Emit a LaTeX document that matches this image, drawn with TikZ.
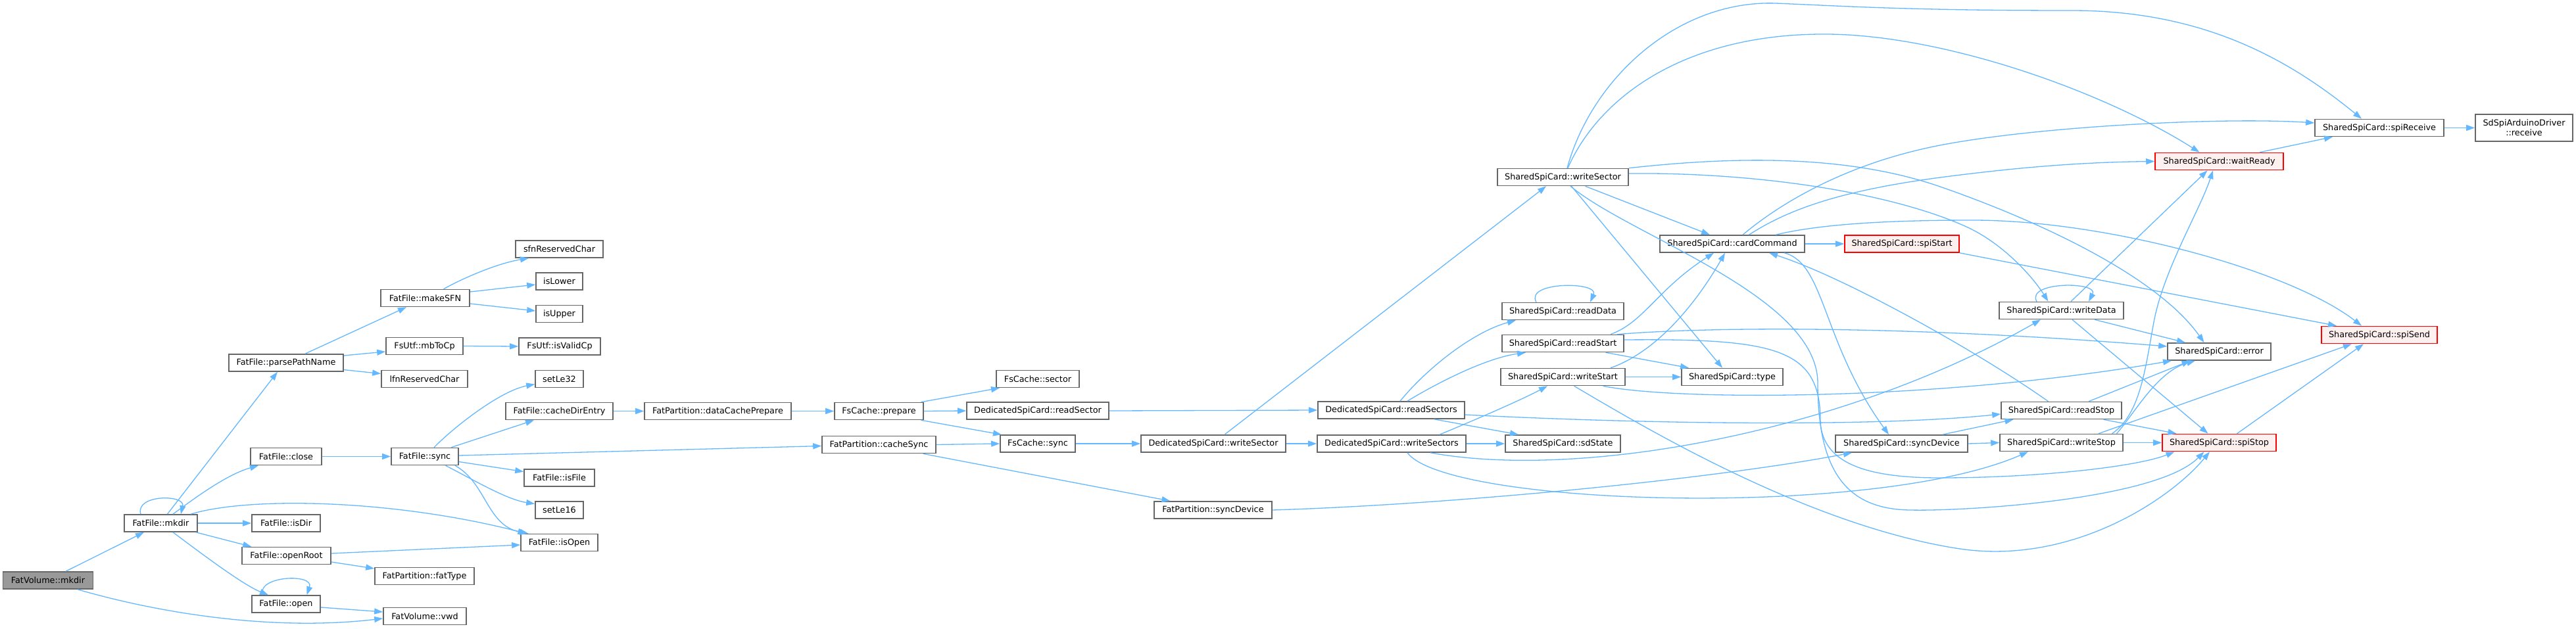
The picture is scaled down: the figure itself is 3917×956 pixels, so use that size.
\documentclass[tikz,border=0pt]{standalone}
\usepackage{fontspec}
\setmainfont{DejaVu Sans}
\usetikzlibrary{arrows.meta}
\definecolor{edgec}{HTML}{63B8FF}
\definecolor{bord}{HTML}{666666}
\definecolor{redb}{HTML}{FF0000}
\definecolor{redf}{HTML}{FFF0F0}
\definecolor{rootf}{HTML}{999999}
\begin{document}
\begin{tikzpicture}[x=1pt,y=1pt,
  box/.style={draw=bord, fill=white, line width=1.6pt, inner sep=0pt, minimum height=26pt, font=\fontsize{12.8}{15}\selectfont, text=black},
  redbox/.style={box, draw=redb, fill=redf},
  rootbox/.style={box, fill=rootf},
  e/.style={draw=edgec, line width=1.3pt, -{Triangle[length=13pt,width=9pt]}}]
\fill[white] (0,0) rectangle (3917,-956);
\useasboundingbox (0,0) rectangle (3917,-956);
% nodes
\node[rootbox, minimum width=137pt] (vmkdir) at (73,-883) {FatVolume::mkdir};
\node[box, minimum width=111pt] (fmkdir) at (244.5,-796) {FatFile::mkdir};
\node[box, minimum width=174pt] (parse) at (435,-552) {FatFile::parsePathName};
\node[box, minimum width=108pt] (close) at (435,-694.5) {FatFile::close};
\node[box, minimum width=104pt] (isDir) at (435,-796) {FatFile::isDir};
\node[box, minimum width=135pt] (openRoot) at (435.5,-845.5) {FatFile::openRoot};
\node[box, minimum width=104pt] (open) at (435,-919) {FatFile::open};
\node[box, minimum width=135pt] (makeSFN) at (646.5,-453.5) {FatFile::makeSFN};
\node[box, minimum width=117pt] (mbToCp) at (645.5,-526.5) {FsUtf::mbToCp};
\node[box, minimum width=131pt] (lfn) at (645.5,-576.5) {lfnReservedChar};
\node[box, minimum width=102pt] (fsync) at (646,-694.5) {FatFile::sync};
\node[box, minimum width=151pt] (fatType) at (645.5,-876.5) {FatPartition::fatType};
\node[box, minimum width=126pt] (vwd) at (646,-937.5) {FatVolume::vwd};
\node[box, minimum width=133pt] (sfn) at (850.5,-379) {sfnReservedChar};
\node[box, minimum width=71pt] (isLower) at (850.5,-428) {isLower};
\node[box, minimum width=71pt] (isUpper) at (850.5,-477.5) {isUpper};
\node[box, minimum width=124pt] (isValidCp) at (851,-527) {FsUtf::isValidCp};
\node[box, minimum width=73pt] (setLe32) at (850.5,-576.5) {setLe32};
\node[box, minimum width=163pt] (cacheDirEntry) at (850.5,-625.5) {FatFile::cacheDirEntry};
\node[box, minimum width=107pt] (isFile) at (850.5,-727) {FatFile::isFile};
\node[box, minimum width=73pt] (setLe16) at (850.5,-776) {setLe16};
\node[box, minimum width=117pt] (isOpen) at (850.5,-825.5) {FatFile::isOpen};
\node[box, minimum width=223pt] (dcp) at (1091.5,-625.5) {FatPartition::dataCachePrepare};
\node[box, minimum width=135pt] (prepare) at (1336.5,-625.5) {FsCache::prepare};
\node[box, minimum width=173pt] (cacheSync) at (1336.5,-676.5) {FatPartition::cacheSync};
\node[box, minimum width=126pt] (sector) at (1578,-576.5) {FsCache::sector};
\node[box, minimum width=216pt] (readSector) at (1578,-625) {DedicatedSpiCard::readSector};
\node[box, minimum width=114pt] (fcsync) at (1578,-675) {FsCache::sync};
\node[box, minimum width=220pt] (dwriteSector) at (1845,-675) {DedicatedSpiCard::writeSector};
\node[box, minimum width=179pt] (psyncDevice) at (1844.5,-776) {FatPartition::syncDevice};
\node[box, minimum width=223pt] (readSectors) at (2115.5,-624) {DedicatedSpiCard::readSectors};
\node[box, minimum width=226pt] (writeSectors) at (2116,-675) {DedicatedSpiCard::writeSectors};
\node[box, minimum width=199pt] (swriteSector) at (2376.5,-269.5) {SharedSpiCard::writeSector};
\node[box, minimum width=185pt] (readData) at (2376.5,-473.5) {SharedSpiCard::readData};
\node[box, minimum width=185pt] (readStart) at (2376.5,-522.5) {SharedSpiCard::readStart};
\node[box, minimum width=189pt] (writeStart) at (2376.5,-573.5) {SharedSpiCard::writeStart};
\node[box, minimum width=175pt] (sdState) at (2376.5,-675) {SharedSpiCard::sdState};
\node[box, minimum width=220pt] (cardCommand) at (2634,-371) {SharedSpiCard::cardCommand};
\node[box, minimum width=154pt] (type) at (2634,-573.5) {SharedSpiCard::type};
\node[redbox, minimum width=174pt] (spiStart) at (2892,-371) {SharedSpiCard::spiStart};
\node[box, minimum width=201pt] (ssyncDevice) at (2891.5,-675) {SharedSpiCard::syncDevice};
\node[box, minimum width=189pt] (writeData) at (3134.5,-472.5) {SharedSpiCard::writeData};
\node[box, minimum width=183pt] (readStop) at (3134.5,-624.5) {SharedSpiCard::readStop};
\node[box, minimum width=187pt] (writeStop) at (3134.5,-673.5) {SharedSpiCard::writeStop};
\node[redbox, minimum width=195pt] (waitReady) at (3374.5,-245.5) {SharedSpiCard::waitReady};
\node[box, minimum width=157pt] (error) at (3374.5,-535) {SharedSpiCard::error};
\node[redbox, minimum width=173pt] (spiStop) at (3374.5,-673.5) {SharedSpiCard::spiStop};
\node[box, minimum width=196pt] (spiReceive) at (3618,-194.5) {SharedSpiCard::spiReceive};
\node[redbox, minimum width=176pt] (spiSend) at (3618,-509.5) {SharedSpiCard::spiSend};
\node[box, minimum width=148pt, minimum height=41pt, align=center] (receive) at (3838,-194.5) {SdSpiArduinoDriver\\::receive};
% left edges
\draw[e] ([xshift=27pt]vmkdir.north) -- ([xshift=-25.5pt]fmkdir.south);
\draw[e] ([xshift=45pt]vmkdir.south) .. controls (250,-935) and (420,-960) .. ([yshift=-3.5pt]vwd.west);
\draw[e] ([xshift=-30.5pt]fmkdir.north) .. controls (205,-752) and (282,-752) .. ([xshift=30.5pt]fmkdir.north);
\draw[e] ([xshift=10pt]fmkdir.north) -- ([xshift=-13pt]parse.south);
\draw[e] ([xshift=18.5pt]fmkdir.north) .. controls (300,-755) and (345,-722) .. ([xshift=-42pt]close.south);
\draw[e] ([xshift=45.5pt]fmkdir.north) .. controls (380,-755) and (600,-760) .. ([xshift=-50pt]isOpen.north);
\draw[e] (fmkdir.east) -- (isDir.west);
\draw[e] (fmkdir) -- (openRoot);
\draw[e] ([xshift=18.5pt]fmkdir.south) .. controls (310,-845) and (370,-890) .. ([xshift=-27pt]open.north);
\draw[e] ([xshift=-35.5pt]open.north) .. controls (390,-876) and (478,-872) .. ([xshift=31.5pt]open.north);
\draw[e] ([yshift=-5pt]open.east) -- ([yshift=6.5pt]vwd.west);
\draw[e] ([xshift=29pt]parse.north) -- ([xshift=-28.5pt]makeSFN.south);
\draw[e] ([yshift=11pt]parse.east) -- ([yshift=-8.5pt]mbToCp.west);
\draw[e] ([yshift=-10.6pt]parse.east) -- ([yshift=8pt]lfn.west);
\draw[e] ([xshift=28pt]makeSFN.north) .. controls (710,-420) and (760,-400) .. ([xshift=-46.5pt]sfn.south);
\draw[e] ([yshift=9.5pt]makeSFN.east) -- ([yshift=-5pt]isLower.west);
\draw[e] ([yshift=-8.5pt]makeSFN.east) -- ([yshift=4.5pt]isUpper.west);
\draw[e] (mbToCp.east) -- (isValidCp.west);
\draw[e] (close.east) -- (fsync.west);
\draw[e] ([xshift=14pt]fsync.north) .. controls (690,-650) and (760,-595) .. ([yshift=-8pt]setLe32.west);
\draw[e] ([xshift=40pt]fsync.north) -- ([xshift=-38.5pt]cacheDirEntry.south);
\draw[e] ([yshift=1.5pt]fsync.east) -- ([yshift=-2pt]cacheSync.west);
\draw[e] ([yshift=-8pt]fsync.east) -- ([yshift=9.4pt]isFile.west);
\draw[e] ([xshift=31.5pt]fsync.south) .. controls (720,-730) and (770,-760) .. ([yshift=9.5pt]setLe16.west);
\draw[e] ([xshift=46pt]fsync.south) .. controls (740,-735) and (740,-800) .. ([xshift=-47pt]isOpen.north);
\draw[e] ([yshift=3.5pt]openRoot.east) -- ([yshift=-3.5pt]isOpen.west);
\draw[e] ([yshift=-9.5pt]openRoot.east) -- ([yshift=11.5pt]fatType.west);
\draw[e] (cacheDirEntry.east) -- (dcp.west);
\draw[e] (dcp.east) -- (prepare.west);
\draw[e] ([xshift=64pt]prepare.north) -- ([xshift=-58pt]sector.south);
\draw[e] (prepare.east) -- (readSector.west);
\draw[e] ([xshift=64pt]prepare.south) -- ([xshift=-55pt]fcsync.north);
\draw[e] (cacheSync.east) -- (fcsync.west);
\draw[e] ([xshift=67pt]cacheSync.south) -- ([xshift=-65pt]psyncDevice.north);
\draw[e] (fcsync.east) -- (dwriteSector.west);
\draw[e] (readSector.east) -- (readSectors.west);
\draw[e] ([xshift=17pt]dwriteSector.north) -- ([xshift=-25.5pt]swriteSector.south);
\draw[e] (dwriteSector.east) -- (writeSectors.west);
% dedicated spi card
\draw[e] ([xshift=13.5pt]readSectors.north) .. controls (2170,-560) and (2240,-505) .. ([xshift=-71.5pt]readData.south);
\draw[e] ([xshift=24.5pt]readSectors.north) .. controls (2190,-580) and (2260,-545) .. ([xshift=-56.5pt]readStart.south);
\draw[e] ([yshift=-7pt]readSectors.east) .. controls (2500,-645) and (2850,-650) .. ([yshift=-5.5pt]readStop.west);
\draw[e] ([xshift=65pt]readSectors.south) -- ([xshift=-67.5pt]sdState.north);
\draw[e] ([xshift=73pt]writeSectors.north) .. controls (2240,-640) and (2310,-610) .. ([xshift=-23.5pt]writeStart.south);
\draw[e] (writeSectors.east) -- (sdState.west);
\draw[e] ([xshift=59pt]writeSectors.south) .. controls (2400,-730) and (2800,-660) .. ([xshift=-31.5pt]writeData.south);
\draw[e] ([xshift=24pt]writeSectors.south) .. controls (2200,-770) and (2850,-790) .. ([xshift=-50.5pt]writeStop.south);
\draw[e] (psyncDevice.east) .. controls (2200,-768) and (2600,-730) .. ([xshift=-75.5pt]ssyncDevice.south);
% shared writeSector
\draw[e] ([xshift=34pt]swriteSector.south) -- ([xshift=-34pt]cardCommand.north);
\draw[e] ([xshift=13pt]swriteSector.south) -- ([xshift=-15pt]type.north);
\draw[e] ([xshift=11.5pt]swriteSector.south) .. controls (2480,-360) and (2764,-450) .. (2764,-583) .. controls (2764,-720) and (2810,-775) .. (2905,-776) .. controls (2990,-778) and (3280,-760) .. ([xshift=-23pt]spiStop.south);
\draw[e] ([xshift=6.5pt]swriteSector.north) .. controls (2420,-120) and (2550,0) .. (2700,-5) .. controls (2800,-9) and (2900,-16) .. (3150,-16) .. controls (3350,-16) and (3480,-90) .. ([xshift=-27pt]spiReceive.north);
\draw[e] ([xshift=7.5pt]swriteSector.north) .. controls (2430,-150) and (2560,-50) .. (2780,-52) .. controls (2960,-54) and (3200,-140) .. ([xshift=-30pt]waitReady.north);
\draw[e] (swriteSector.north east) .. controls (2620,-240) and (2800,-232) .. (2950,-284) .. controls (3100,-336) and (3280,-420) .. ([xshift=-23pt]error.north);
\draw[e] ([yshift=5.5pt]swriteSector.east) .. controls (2680,-262) and (2880,-295) .. (2990,-345) .. controls (3045,-370) and (3090,-420) .. ([xshift=-20pt]writeData.north);
% cardCommand
\draw[e] (cardCommand.east) -- (spiStart.west);
\draw[e] ([xshift=79pt]cardCommand.south) .. controls (2775,-400) and (2770,-520) .. ([xshift=-19.5pt]ssyncDevice.north);
\draw[e] ([xshift=16pt]cardCommand.north) .. controls (2700,-315) and (2800,-250) .. (2950,-221) .. controls (3100,-192) and (3380,-178) .. ([yshift=7.5pt]spiReceive.west);
\draw[e] ([xshift=25.5pt]cardCommand.north) .. controls (2720,-318) and (2800,-290) .. (2950,-270) .. controls (3050,-257) and (3150,-247) .. (waitReady.west);
\draw[e] ([xshift=66pt]cardCommand.north) .. controls (2760,-343) and (2850,-335) .. (3000,-335) .. controls (3200,-335) and (3480,-410) .. ([xshift=-27pt]spiSend.north);
\draw[e] (spiStart.south east) -- ([xshift=-65pt]spiSend.north);
% readStart / writeStart
\draw[e] ([xshift=72.5pt]readStart.north) .. controls (2500,-490) and (2520,-440) .. ([xshift=-28pt]cardCommand.south);
\draw[e] ([xshift=72.5pt]writeStart.north) .. controls (2520,-535) and (2580,-460) .. ([xshift=-11pt]cardCommand.south);
\draw[e] ([xshift=65pt]readStart.south) -- ([xshift=-66pt]type.north);
\draw[e] (writeStart.east) -- (type.west);
\draw[e] ([xshift=82pt]readStart.north) .. controls (2600,-497) and (2900,-495) .. ([yshift=8pt]error.west);
\draw[e] ([yshift=5.5pt]readStart.east) .. controls (2700,-515) and (2768,-530) .. (2768,-640) .. controls (2770,-710) and (2850,-727) .. (2950,-727) .. controls (3100,-727) and (3250,-710) .. ([xshift=-68pt]spiStop.south);
\draw[e] ([xshift=61pt]writeStart.south) .. controls (2550,-610) and (2950,-610) .. ([xshift=-72.5pt]error.south);
\draw[e] ([xshift=17pt]writeStart.south) .. controls (2500,-650) and (2750,-800) .. (2980,-835) .. controls (3150,-860) and (3300,-760) .. ([xshift=-14.5pt]spiStop.south);
% stop / data
\draw[e] ([xshift=-20pt]readStop.north) .. controls (3000,-530) and (2800,-420) .. ([xshift=56pt]cardCommand.south);
\draw[e] ([xshift=-40.5pt]readData.north) .. controls (2318,-428) and (2432,-428) .. ([xshift=41.5pt]readData.north);
\draw[e] ([xshift=-37.5pt]writeData.north) .. controls (3080,-428) and (3192,-428) .. ([xshift=41.5pt]writeData.north);
\draw[e] ([xshift=14.5pt]writeData.north) -- ([xshift=-18pt]waitReady.south);
\draw[e] ([xshift=50.5pt]writeData.south) -- ([xshift=-51.5pt]error.north);
\draw[e] ([xshift=16.5pt]writeData.south) -- ([xshift=-17pt]spiStop.north);
\draw[e] ([xshift=41.5pt]readStop.north) -- ([xshift=-44pt]error.south);
\draw[e] ([xshift=64pt]readStop.south) -- ([xshift=-65pt]spiStop.north);
\draw[e] ([xshift=84pt]writeStop.north) .. controls (3245,-630) and (3280,-565) .. ([xshift=-36.5pt]error.south);
\draw[e] ([xshift=77pt]writeStop.north) .. controls (3255,-630) and (3262,-560) .. (3275,-490) .. controls (3290,-410) and (3345,-320) .. ([xshift=-9.5pt]waitReady.south);
\draw[e] ([xshift=56.5pt]writeStop.north) -- ([xshift=-42pt]spiSend.south);
\draw[e] (writeStop.east) -- (spiStop.west);
\draw[e] ([xshift=27pt]spiStop.north) -- ([xshift=-24pt]spiSend.south);
\draw[e] ([xshift=61.5pt]waitReady.north) -- ([xshift=-71pt]spiReceive.south);
\draw[e] (spiReceive.east) -- (receive.west);
\draw[e] ([xshift=62pt]ssyncDevice.north) -- ([xshift=-73pt]readStop.south);
\draw[e] (ssyncDevice.east) -- (writeStop.west);
\end{tikzpicture}
\end{document}
